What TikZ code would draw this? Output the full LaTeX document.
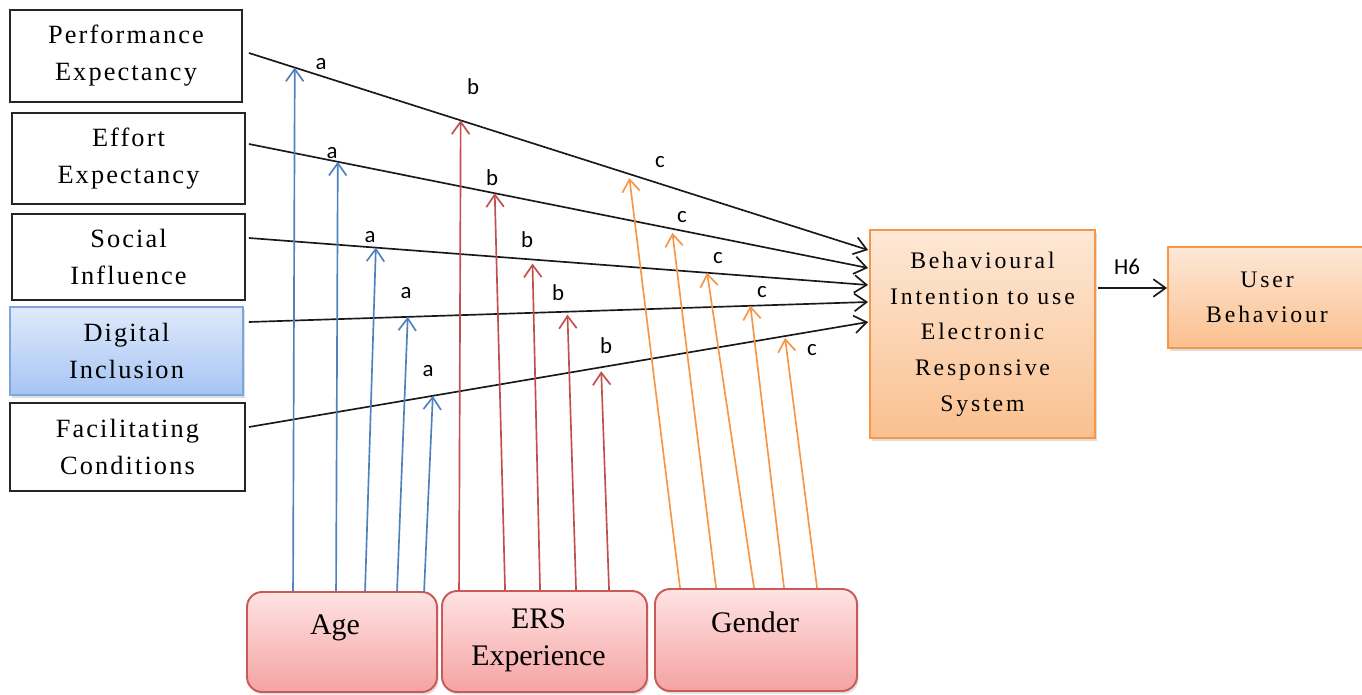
\documentclass[tikz,border=0pt]{standalone}
\usepackage{fontspec}
\setmainfont{Liberation Serif}
\newfontfamily\boxfont[LetterSpace=8]{Liberation Serif}
\newfontfamily\widefont[LetterSpace=12]{Liberation Serif}
\newfontfamily\tagfont{Carlito}
\usetikzlibrary{arrows.meta,calc,shadows}

\definecolor{agecol}{HTML}{4F81BD}
\definecolor{erscol}{HTML}{C0504D}
\definecolor{gencol}{HTML}{F79646}
\definecolor{diborder}{HTML}{7FA6DC}
\definecolor{ditop}{HTML}{DFEAFB}
\definecolor{dibot}{HTML}{A6C5F4}
\definecolor{ortop}{HTML}{FDE8D6}
\definecolor{orbot}{HTML}{FAC08F}
\definecolor{pktop}{HTML}{FFE3E3}
\definecolor{pkbot}{HTML}{F4A3A2}
\definecolor{pkborder}{HTML}{C95A57}

\begin{document}
\begin{tikzpicture}[x=0.02cm,y=-0.02cm,
  softshadow/.style={drop shadow={shadow xshift=1pt,shadow yshift=-1.5pt,fill=black!60,opacity=0.22}},
  construct/.style={draw=black!85,line width=1.1pt,fill=white,align=center,inner sep=0pt,
    font=\boxfont\fontsize{15}{21}\selectfont},
  bluebox/.style={construct,draw=diborder,top color=ditop,bottom color=dibot,softshadow},
  orbox/.style={draw=gencol,line width=1.1pt,top color=ortop,bottom color=orbot,align=center,
    inner sep=0pt,font=\widefont\fontsize{13.5}{20.3}\selectfont,softshadow},
  modbox/.style={draw=pkborder,line width=1.1pt,top color=pktop,bottom color=pkbot,
    rounded corners=0.3cm,inner sep=0pt,softshadow},
  modtext/.style={align=center,inner sep=0pt,font=\fontsize{17}{21}\selectfont},
  tag/.style={inner sep=0pt,font=\tagfont\fontsize{13}{15}\selectfont},
  path/.style={draw=black!90,line width=0.95pt,-{Straight Barb[length=7pt,width=10pt]}},
  modarrow/.style={line width=0.95pt,-{Straight Barb[length=7pt,width=10pt]}},
]
\useasboundingbox (0,0) rectangle (1362,695);

% predictor constructs
\node[construct,minimum width=4.64cm,minimum height=1.84cm] (pe) at (126,56)
  {Performance\\Expectancy};
\node[construct,minimum width=4.66cm,minimum height=1.82cm] (ee) at (128.5,158.5)
  {Effort\\Expectancy};
\node[construct,minimum width=4.66cm,minimum height=1.72cm] (si) at (128.5,257)
  {Social\\Influence};
\node[bluebox,minimum width=4.66cm,minimum height=1.76cm] (di) at (126.5,351)
  {Digital\\Inclusion};
\node[construct,minimum width=4.70cm,minimum height=1.76cm] (fc) at (127.5,447)
  {Facilitating\\Conditions};

% outcome constructs
\node[orbox,minimum width=4.5cm,minimum height=4.16cm] (bi) at (982.5,334)
  {Behavioural\\Intention to use\\Electronic\\Responsive\\System};
\node[orbox,minimum width=3.96cm,minimum height=2.02cm] (ub) at (1267,297.5)
  {User\\Behaviour};

% moderators
\node[modbox,minimum width=3.8cm,minimum height=2.0cm] (age) at (342,642) {};
\node[modbox,minimum width=4.1cm,minimum height=2.02cm] (ers) at (544.5,641.5) {};
\node[modbox,minimum width=4.04cm,minimum height=2.04cm] (gen) at (756,640) {};
\node[modtext,anchor=base] (agetxt) at ($(age.north)+(-7,43)$) {Age};
\node[modtext] (erstxt) at ($(ers.center)+(-6,-1)$) {ERS\\Experience};
\node[modtext,anchor=base] (gentxt) at ($(gen.north)+(-1,44)$) {Gender};

% end points of the construct paths
\coordinate (s1) at ($(pe.east)+(6,-3)$);
\coordinate (s2) at ($(ee.east)+(3,-14.5)$);
\coordinate (s3) at ($(si.east)+(3,-19)$);
\coordinate (s4) at ($(di.east)+(5,-29)$);
\coordinate (s5) at ($(fc.east)+(3,-20)$);
\coordinate (e1) at ($(bi.west)+(-1,-84)$);
\coordinate (e2) at ($(bi.west)+(-1,-66)$);
\coordinate (e3) at ($(bi.west)+(-1,-49)$);
\coordinate (e4) at ($(bi.west)+(-1,-32)$);
\coordinate (e5) at ($(bi.west)+(-1,-12)$);

\draw[path] (s1) -- (e1);
\draw[path] (s2) -- (e2);
\draw[path] (s3) -- (e3);
\draw[path] (s4) -- (e4);
\draw[path] (s5) -- (e5);

% H6
\coordinate (h6s) at ($(bi.east)+(2,-46)$);
\draw[path] (h6s) -- (h6s -| ub.west);
\node[tag] (h6) at (1127,267) {H6};

% Age moderating paths
\draw[modarrow,agecol] ($(age.north west)+(47,0)$)  -- ($(s1)!0.074!(e1)$);
\draw[modarrow,agecol] ($(age.north west)+(90,0)$)  -- ($(s2)!0.1435!(e2)$);
\draw[modarrow,agecol] ($(age.north west)+(119,0)$) -- ($(s3)!0.205!(e3)$);
\draw[modarrow,agecol] ($(age.north west)+(151,0)$) -- ($(s4)!0.2565!(e4)$);
\draw[modarrow,agecol] ($(age.north west)+(178,1)$) -- ($(s5)!0.297!(e5)$);

% ERS experience moderating paths
\draw[modarrow,erscol] ($(ers.north west)+(18,0)$)  -- ($(s1)!0.342!(e1)$);
\draw[modarrow,erscol] ($(ers.north west)+(64,0)$)  -- ($(s2)!0.397!(e2)$);
\draw[modarrow,erscol] ($(ers.north west)+(99,0)$)  -- ($(s3)!0.458!(e3)+(0,4)$);
\draw[modarrow,erscol] ($(ers.north west)+(135,0)$) -- ($(s4)!0.5145!(e4)+(0,3)$);
\draw[modarrow,erscol] ($(ers.north west)+(168,0)$) -- ($(s5)!0.569!(e5)+(0,4)$);

% Gender moderating paths
\draw[modarrow,gencol] ($(gen.north west)+(26,0)$)  -- ($(s1)!0.6145!(e1)+(0,4)$);
\draw[modarrow,gencol] ($(gen.north west)+(62,0)$)  -- ($(s2)!0.684!(e2)+(0,4)$);
\draw[modarrow,gencol] ($(gen.north west)+(100,0)$) -- ($(s3)!0.740!(e3)$);
\draw[modarrow,gencol] ($(gen.north west)+(130,0)$) -- ($(s4)!0.81!(e4)$);
\draw[modarrow,gencol] ($(gen.north west)+(163,0)$) -- ($(s5)!0.866!(e5)+(0,2)$);

% path labels
\node[tag] (la1) at (321,64) {a};
\node[tag] (la2) at (332,153) {a};
\node[tag] (la3) at (370,237) {a};
\node[tag] (la4) at (406,293) {a};
\node[tag] (la5) at (428,371) {a};
\node[tag] (lb1) at (473,87) {b};
\node[tag] (lb2) at (492,178) {b};
\node[tag] (lb3) at (527,240) {b};
\node[tag] (lb4) at (558,293) {b};
\node[tag] (lb5) at (606,346) {b};
\node[tag] (lc1) at (660,162) {c};
\node[tag] (lc2) at (682,217) {c};
\node[tag] (lc3) at (718,258) {c};
\node[tag] (lc4) at (762,292) {c};
\node[tag] (lc5) at (812,350) {c};
\end{tikzpicture}
\end{document}
